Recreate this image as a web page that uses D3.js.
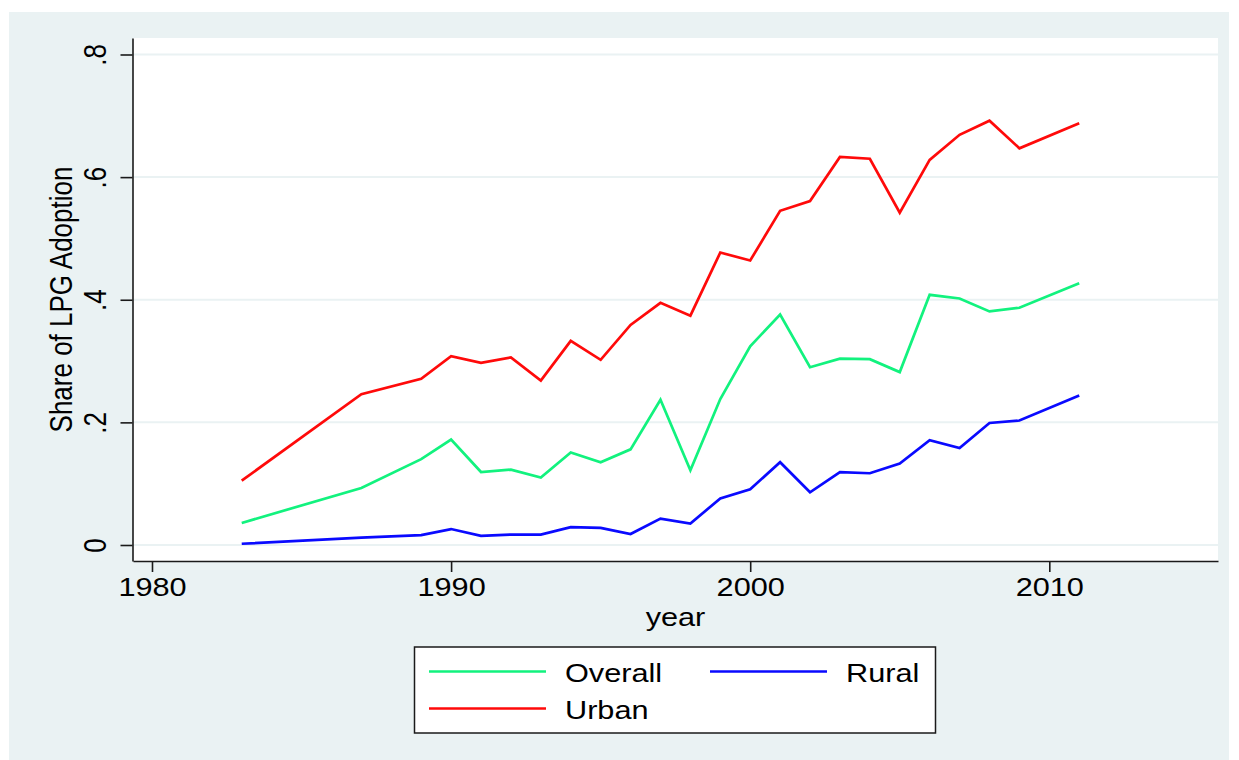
<!DOCTYPE html>
<html>
<head>
<meta charset="utf-8">
<script src="https://cdn.jsdelivr.net/npm/d3@7/dist/d3.min.js"></script>
<style>
  html, body { margin: 0; padding: 0; background: #ffffff; }
  svg { display: block; }
  text { font-family: "Liberation Sans", Arial, sans-serif; fill: #000; }
</style>
</head>
<body>
<svg id="chart" width="1239" height="760"></svg>
<script>
// Survey years (some years have no observation)
const years = [1983, 1987, 1989, 1990, 1991, 1992, 1993, 1994, 1995, 1996, 1997, 1998,
               1999, 2000, 2001, 2002, 2003, 2004, 2005, 2006, 2007, 2008, 2009, 2011];

// Share of households using LPG
const overall = [0.036, 0.093, 0.140, 0.172, 0.119, 0.123, 0.110, 0.151, 0.135, 0.156, 0.237, 0.122,
                 0.238, 0.324, 0.376, 0.290, 0.304, 0.303, 0.282, 0.408, 0.402, 0.381, 0.387, 0.427];
const rural   = [0.002, 0.012, 0.016, 0.026, 0.015, 0.017, 0.017, 0.029, 0.028, 0.018, 0.043, 0.035,
                 0.076, 0.091, 0.135, 0.086, 0.119, 0.117, 0.133, 0.171, 0.158, 0.199, 0.203, 0.244];
const urban   = [0.105, 0.246, 0.271, 0.308, 0.297, 0.306, 0.268, 0.333, 0.302, 0.359, 0.395, 0.374,
                 0.477, 0.464, 0.545, 0.561, 0.633, 0.630, 0.542, 0.628, 0.669, 0.692, 0.647, 0.688];

const xTicks = [1980, 1990, 2000, 2010];
const yTicks = [0, 0.2, 0.4, 0.6, 0.8];

const seriesNames  = ["Overall", "Rural", "Urban"];
const seriesColors = ["#12f27e", "#0a0aff", "#ff0a0a"];

const svg = d3.select("#chart");
const SX = 1.18;         // horizontal text stretch
const FS = 26;           // font size

// Plot area
const plotL = 133, plotR = 1218, plotT = 38, plotB = 561;

// Outer panel
svg.append("rect").attr("x", 9).attr("y", 12).attr("width", 1220).attr("height", 748)
  .attr("fill", "#eaf2f3");
svg.append("rect").attr("x", plotL).attr("y", plotT).attr("width", plotR - plotL).attr("height", plotB - plotT)
  .attr("fill", "#ffffff");

const x = d3.scaleLinear().domain([1979.365, 2015.64]).range([plotL, plotR]);
const y = d3.scaleLinear().domain([-0.0261, 0.8269]).range([plotB, plotT]);

// Grid lines
svg.append("g").selectAll("line").data(yTicks).join("line")
  .attr("x1", plotL).attr("x2", plotR)
  .attr("y1", d => y(d)).attr("y2", d => y(d))
  .attr("stroke", "#eaf2f3").attr("stroke-width", 2);

// Series lines
const series = [overall, rural, urban];
const line = d3.line().x(d => x(d[0])).y(d => y(d[1]));
svg.append("g").selectAll("path").data(series).join("path")
  .attr("d", s => line(years.map((yr, i) => [yr, s[i]])))
  .attr("fill", "none")
  .attr("stroke", (s, i) => seriesColors[i])
  .attr("stroke-width", 2.7)
  .attr("stroke-linejoin", "miter");

// Axes
const fmtY = d => d === 0 ? "0" : d3.format(".1f")(d).replace(/^0/, "");

const gx = svg.append("g").attr("transform", `translate(0,${plotB})`)
  .call(d3.axisBottom(x).tickValues(xTicks).tickSize(11).tickSizeOuter(0).tickFormat(d3.format("d")));
const gy = svg.append("g").attr("transform", `translate(${plotL - 0.5},0)`)
  .call(d3.axisLeft(y).tickValues(yTicks).tickSize(12).tickSizeOuter(0).tickFormat(fmtY));

[gx, gy].forEach(g => {
  g.attr("font-size", null).attr("font-family", null);
  g.select(".domain").attr("stroke", "#1a1a1a").attr("stroke-width", 1.6);
  g.selectAll(".tick line").attr("stroke", "#1a1a1a").attr("stroke-width", 1.6);
  g.selectAll("text").attr("font-size", FS).attr("fill", "#000");
});

gx.selectAll(".tick text")
  .attr("y", null).attr("dy", null)
  .attr("text-anchor", "middle")
  .attr("transform", `translate(0,35) scale(${SX},1)`);

gy.selectAll(".tick text")
  .attr("x", null).attr("dy", null)
  .attr("text-anchor", "middle")
  .attr("transform", `translate(-27,0) scale(${SX},1) rotate(-90)`);

// Axis titles
svg.append("text")
  .attr("transform", `translate(${(plotL + plotR) / 2},626) scale(${SX},1)`)
  .attr("text-anchor", "middle").attr("font-size", FS)
  .text("year");

svg.append("text")
  .attr("transform", `translate(72,${(plotT + plotB) / 2}) scale(${SX},1) rotate(-90)`)
  .attr("text-anchor", "middle").attr("font-size", FS)
  .text("Share of LPG Adoption");

// Legend
const lg = svg.append("g");
lg.append("rect").attr("x", 414.5).attr("y", 647).attr("width", 521).attr("height", 86)
  .attr("fill", "#ffffff").attr("stroke", "#1a1a1a").attr("stroke-width", 1.5);

const legendPos = [
  { lx: 429, lw: 117, ly: 671.5, tx: 565 },
  { lx: 710, lw: 117, ly: 671.5, tx: 846 },
  { lx: 429, lw: 117, ly: 708.5, tx: 565 }
];
seriesNames.forEach((name, i) => {
  const p = legendPos[i];
  lg.append("line")
    .attr("x1", p.lx).attr("x2", p.lx + p.lw)
    .attr("y1", p.ly).attr("y2", p.ly)
    .attr("stroke", seriesColors[i]).attr("stroke-width", 2.7);
  lg.append("text")
    .attr("transform", `translate(${p.tx},${p.ly + 10}) scale(${SX},1)`)
    .attr("font-size", FS)
    .text(name);
});
</script>
</body>
</html>
